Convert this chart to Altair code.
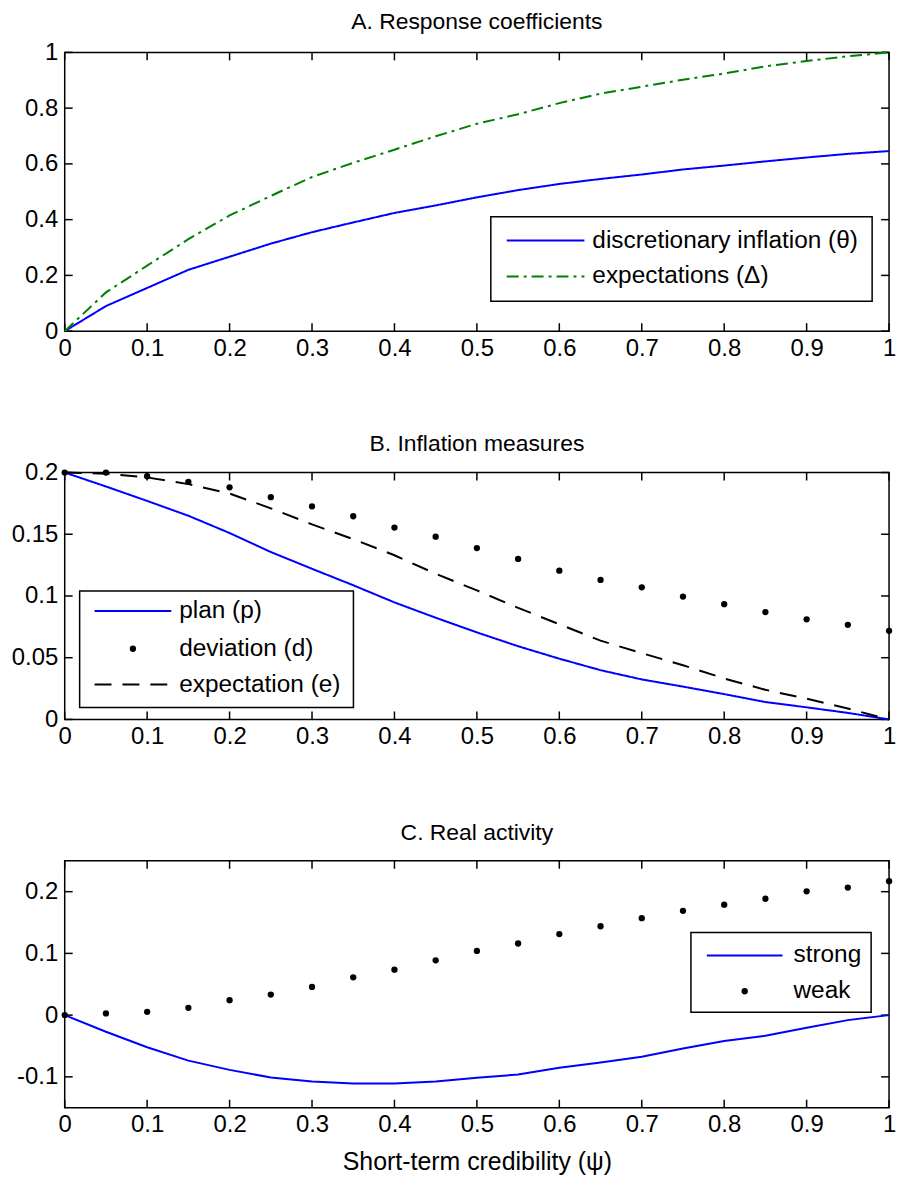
import altair as alt
import pandas as pd

# ---------------- data ----------------
psi = [0.0, 0.05, 0.1, 0.15, 0.2, 0.25, 0.3, 0.35, 0.4, 0.45, 0.5,
       0.55, 0.6, 0.65, 0.7, 0.75, 0.8, 0.85, 0.9, 0.95, 1.0]

# Panel A
names_a = ["discretionary inflation (\u03b8)", "expectations (\u0394)"]
theta = [0.0, 0.090, 0.155, 0.220, 0.267, 0.314, 0.355, 0.390, 0.424, 0.451, 0.480,
         0.506, 0.528, 0.546, 0.562, 0.580, 0.594, 0.609, 0.623, 0.636, 0.646]
delta = [0.0, 0.139, 0.235, 0.330, 0.415, 0.485, 0.553, 0.604, 0.651, 0.699, 0.744,
         0.778, 0.818, 0.852, 0.877, 0.902, 0.924, 0.950, 0.969, 0.986, 1.0]

# Panel B
names_b = ["plan (p)", "deviation (d)", "expectation (e)"]
plan = [0.2, 0.1887, 0.177, 0.165, 0.151, 0.1356, 0.122, 0.1087, 0.0948, 0.0824, 0.0705,
        0.0593, 0.0492, 0.0399, 0.0324, 0.0266, 0.0205, 0.0141, 0.0098, 0.0053, 0.0]
deviation = [0.2, 0.2, 0.197, 0.1925, 0.188, 0.180, 0.1726, 0.1646, 0.1554, 0.148, 0.1388,
             0.130, 0.1205, 0.113, 0.107, 0.0995, 0.0934, 0.087, 0.0811, 0.0766, 0.0718]
expectation = [0.2, 0.199, 0.196, 0.1906, 0.183, 0.171, 0.158, 0.146, 0.133, 0.118, 0.1045,
               0.0904, 0.0771, 0.0638, 0.0537, 0.0439, 0.0332, 0.0240, 0.0168, 0.0088, 0.0]

# Panel C
names_c = ["strong", "weak"]
strong = [0.0, -0.027, -0.052, -0.0737, -0.0887, -0.101, -0.1075, -0.1108, -0.1108, -0.1075, -0.1016,
          -0.0962, -0.0854, -0.0768, -0.0676, -0.054, -0.042, -0.0335, -0.0205, -0.0081, 0.0]
weak = [0.0, 0.0027, 0.0054, 0.0118, 0.0242, 0.0333, 0.0457, 0.0613, 0.0737, 0.0887, 0.1040,
        0.116, 0.1313, 0.144, 0.157, 0.169, 0.179, 0.1885, 0.2005, 0.2066, 0.217]

titles = ["A. Response coefficients", "B. Inflation measures", "C. Real activity"]
x_title = "Short-term credibility (\u03c8)"

x_ticks = [0.0, 0.1, 0.2, 0.3, 0.4, 0.5, 0.6, 0.7, 0.8, 0.9, 1.0]
ya_ticks = [0.0, 0.2, 0.4, 0.6, 0.8, 1.0]
yb_ticks = [0.0, 0.05, 0.1, 0.15, 0.2]
yc_ticks = [-0.1, 0.0, 0.1, 0.2]
ya_domain = [0.0, 1.0]
yb_domain = [0.0, 0.2]
yc_domain = [-0.15, 0.25]

# ---------------- style ----------------
W = 828
H_A, H_B, H_C = 280, 248, 248
FONT = "Liberation Sans"
FS = 24          # tick labels
FS_LEG = 24.5    # legend entries
FS_AXT = 25      # x-axis title
FS_TITLE = 23    # panel titles
TICK = 8
LW = 2
BLUE = "#0000ff"
GREEN = "#008000"
BLACK = "#000000"
DOT = 40
DASH_DD = [12, 5, 3, 5]
DASH_D = [17, 11]
SOLID = [1, 0]
LABEL_EXPR = "datum.value < 0 ? '-' + format(-datum.value, '.2~f') : format(datum.value, '.2~f')"


def x_axis(title=None):
    return alt.Axis(values=x_ticks, labelExpr=LABEL_EXPR, ticks=False, domain=False, grid=False,
                    labelFont=FONT, labelFontSize=FS, labelColor=BLACK, labelPadding=5,
                    labelFlush=False, labelOverlap=False, title=title,
                    titleFont=FONT, titleFontSize=FS_AXT, titleFontWeight="normal",
                    titleColor=BLACK, titlePadding=13)


def y_axis(ticks):
    return alt.Axis(values=ticks, labelExpr=LABEL_EXPR, ticks=False, domain=False, grid=False,
                    labelFont=FONT, labelFontSize=FS, labelColor=BLACK, labelPadding=7,
                    labelFlush=False, labelOverlap=False, title=None)


def tick_layers(height, yscale, yticks, xaxis, yaxis):
    xscale = alt.Scale(domain=[0, 1], nice=False, zero=False)
    dx = pd.DataFrame({"v": x_ticks})
    dy = pd.DataFrame({"v": yticks})
    X = alt.X("v:Q", scale=xscale, axis=xaxis)
    Y = alt.Y("v:Q", scale=yscale, axis=yaxis)
    base = dict(color=BLACK, strokeWidth=1.5)
    return [
        alt.Chart(dx).mark_rule(**base).encode(x=X, y=alt.value(height), y2=alt.value(height - TICK)),
        alt.Chart(dx).mark_rule(**base).encode(x=X, y=alt.value(0), y2=alt.value(TICK)),
        alt.Chart(dy).mark_rule(**base).encode(y=Y, x=alt.value(0), x2=alt.value(TICK)),
        alt.Chart(dy).mark_rule(**base).encode(y=Y, x=alt.value(W), x2=alt.value(W - TICK)),
    ]


def legend_layers(box, items):
    """box = (x0, y0, x1, y1, line_x0, line_x1, text_x) in plot pixels."""
    x0, y0, x1, y1, lx0, lx1, tx = box
    one = pd.DataFrame({"a": [0]})
    layers = [alt.Chart(one).mark_rect(fill="white", stroke=BLACK, strokeWidth=1.5).encode(
        x=alt.value(x0), x2=alt.value(x1), y=alt.value(y0), y2=alt.value(y1))]
    for label, kind, color, dash, y in items:
        if kind == "line":
            layers.append(alt.Chart(one).mark_rule(color=color, strokeWidth=LW, strokeDash=dash).encode(
                x=alt.value(lx0), x2=alt.value(lx1), y=alt.value(y)))
        else:
            layers.append(alt.Chart(one).mark_point(filled=True, color=color, size=DOT, opacity=1).encode(
                x=alt.value((lx0 + lx1) / 2), y=alt.value(y)))
        layers.append(alt.Chart(pd.DataFrame({"label": [label]})).mark_text(
            align="left", baseline="middle", font=FONT, fontSize=FS_LEG, color=BLACK).encode(
            x=alt.value(tx), y=alt.value(y), text="label:N"))
    return layers


def title_params(text, offset):
    return alt.TitleParams(text=text, font=FONT, fontSize=FS_TITLE, fontWeight="normal", color=BLACK,
                           anchor="middle", baseline="alphabetic", offset=offset)


xscale = alt.Scale(domain=[0, 1], nice=False, zero=False)

# ---------------- Panel A ----------------
ya_scale = alt.Scale(domain=ya_domain, nice=False, zero=False)
xa_axis = x_axis()
ya_axis = y_axis(ya_ticks)
df_a = pd.DataFrame({"psi": psi * 2, "value": theta + delta,
                     "series_a": [names_a[0]] * len(psi) + [names_a[1]] * len(psi)})
lines_a = alt.Chart(df_a).mark_line(strokeWidth=LW).encode(
    x=alt.X("psi:Q", scale=xscale, axis=xa_axis),
    y=alt.Y("value:Q", scale=ya_scale, axis=ya_axis),
    color=alt.Color("series_a:N", scale=alt.Scale(domain=names_a, range=[BLUE, GREEN]), legend=None),
    strokeDash=alt.StrokeDash("series_a:N", scale=alt.Scale(domain=names_a, range=[SOLID, DASH_DD]), legend=None),
)
leg_a = legend_layers((428, 165, 811, 250, 444, 522, 530),
                      [(names_a[0], "line", BLUE, SOLID, 189),
                       (names_a[1], "line", GREEN, DASH_DD, 225)])
panel_a = alt.layer(*tick_layers(H_A, ya_scale, ya_ticks, xa_axis, ya_axis), lines_a, *leg_a).properties(
    width=W, height=H_A, title=title_params(titles[0], -12))

# ---------------- Panel B ----------------
yb_scale = alt.Scale(domain=yb_domain, nice=False, zero=False)
xb_axis = x_axis()
yb_axis = y_axis(yb_ticks)
names_b_lines = [names_b[0], names_b[2]]
df_b_lines = pd.DataFrame({"psi": psi * 2, "value": plan + expectation,
                           "series_b": [names_b[0]] * len(psi) + [names_b[2]] * len(psi)})
df_b_dots = pd.DataFrame({"psi": psi, "value": deviation})
lines_b = alt.Chart(df_b_lines).mark_line(strokeWidth=LW).encode(
    x=alt.X("psi:Q", scale=xscale, axis=xb_axis),
    y=alt.Y("value:Q", scale=yb_scale, axis=yb_axis),
    color=alt.Color("series_b:N", scale=alt.Scale(domain=names_b_lines, range=[BLUE, BLACK]), legend=None),
    strokeDash=alt.StrokeDash("series_b:N", scale=alt.Scale(domain=names_b_lines, range=[SOLID, DASH_D]), legend=None),
)
dots_b = alt.Chart(df_b_dots).mark_point(filled=True, color=BLACK, size=DOT, opacity=1).encode(
    x=alt.X("psi:Q", scale=xscale, axis=xb_axis),
    y=alt.Y("value:Q", scale=yb_scale, axis=yb_axis),
)
leg_b = legend_layers((15, 119, 290, 236, 30, 107, 115),
                      [(names_b[0], "line", BLUE, SOLID, 139),
                       (names_b[1], "dot", BLACK, SOLID, 177),
                       (names_b[2], "line", BLACK, DASH_D, 213)])
panel_b = alt.layer(*tick_layers(H_B, yb_scale, yb_ticks, xb_axis, yb_axis), lines_b, dots_b, *leg_b).properties(
    width=W, height=H_B, title=title_params(titles[1], -13))

# ---------------- Panel C ----------------
yc_scale = alt.Scale(domain=yc_domain, nice=False, zero=False)
xc_axis = x_axis(x_title)
yc_axis = y_axis(yc_ticks)
df_c_line = pd.DataFrame({"psi": psi, "value": strong})
df_c_dots = pd.DataFrame({"psi": psi, "value": weak})
line_c = alt.Chart(df_c_line).mark_line(strokeWidth=LW, color=BLUE).encode(
    x=alt.X("psi:Q", scale=xscale, axis=xc_axis),
    y=alt.Y("value:Q", scale=yc_scale, axis=yc_axis),
)
dots_c = alt.Chart(df_c_dots).mark_point(filled=True, color=BLACK, size=DOT, opacity=1).encode(
    x=alt.X("psi:Q", scale=xscale, axis=xc_axis),
    y=alt.Y("value:Q", scale=yc_scale, axis=yc_axis),
)
leg_c = legend_layers((629, 72, 810, 152, 645, 721, 732),
                      [(names_c[0], "line", BLUE, SOLID, 95),
                       (names_c[1], "dot", BLACK, SOLID, 131)])
panel_c = alt.layer(*tick_layers(H_C, yc_scale, yc_ticks, xc_axis, yc_axis), line_c, dots_c, *leg_c).properties(
    width=W, height=H_C, title=title_params(titles[2], -3))

chart = alt.vconcat(panel_a, panel_b, panel_c, spacing=142, bounds="flush").resolve_scale(
    color="independent", strokeDash="independent"
).properties(
    padding={"left": 10, "top": 8, "right": 5, "bottom": 5},
    background="white",
).configure_view(stroke=BLACK, strokeWidth=1.5)

chart.save("out.html", embed_options={"renderer": "svg", "actions": False})
